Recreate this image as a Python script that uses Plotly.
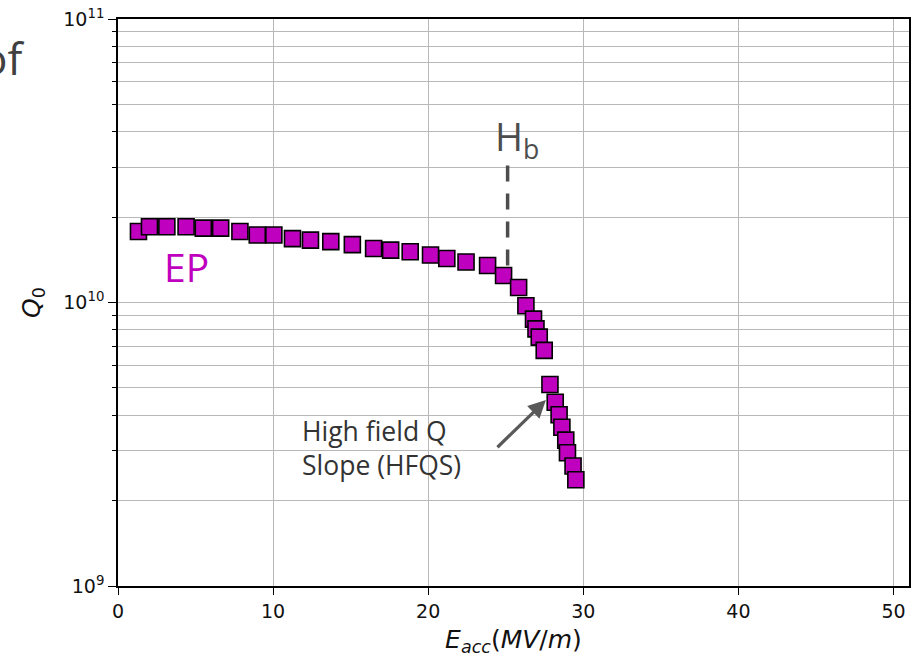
import plotly.graph_objects as go

# Q0 vs accelerating gradient for an EP-treated cavity
eacc = [1.32, 2.03, 3.15, 4.39, 5.50, 6.62, 7.86, 8.98, 10.05, 11.25, 12.41,
        13.72, 15.11, 16.48, 17.58, 18.84, 20.15, 21.20, 22.44, 23.83, 24.86,
        25.83, 26.30, 26.79, 26.95, 27.16, 27.48, 27.85, 28.19, 28.44, 28.62,
        28.87, 28.98, 29.34, 29.52]
q0 = [1.78e10, 1.85e10, 1.85e10, 1.85e10, 1.83e10, 1.83e10, 1.78e10, 1.73e10,
      1.73e10, 1.68e10, 1.66e10, 1.64e10, 1.60e10, 1.55e10, 1.53e10, 1.51e10,
      1.47e10, 1.43e10, 1.39e10, 1.35e10, 1.245e10, 1.13e10, 9.74e9, 8.74e9,
      8.07e9, 7.55e9, 6.78e9, 5.14e9, 4.45e9, 4.02e9, 3.63e9, 3.27e9, 2.95e9,
      2.65e9, 2.37e9]

# Hb marker: vertical dashed line
hb_x = [25.12, 25.12]
hb_y = [1.35e10, 3.04e10]

x_ticks = [0, 10, 20, 30, 40, 50]
y_major = [1e9, 1e10, 1e11]
y_major_text = ["10<sup>9</sup>", "10<sup>10</sup>", "10<sup>11</sup>"]
y_minor = [m * d for d in (1e9, 1e10) for m in range(2, 10)]

MAGENTA = "#BF00BF"
GRID = "#b8b8b8"
TICKFONT = dict(family="DejaVu Sans", size=19, color="#111")

fig = go.Figure()

fig.add_trace(go.Scatter(
    x=hb_x, y=hb_y, mode="lines",
    line=dict(color="#4d4d4d", width=3.5, dash="16px,12px"),
    hoverinfo="skip", showlegend=False,
))

fig.add_trace(go.Scatter(
    x=eacc, y=q0, mode="markers",
    marker=dict(symbol="square", size=16, color=MAGENTA,
                line=dict(color="black", width=1.6)),
    showlegend=False, cliponaxis=False,
))

annotations = [
    dict(x=2.85, y=10.127, xref="x", yref="y", text="EP", showarrow=False,
         xanchor="left", yanchor="middle",
         font=dict(family="Open Sans", size=39, color=MAGENTA)),
    dict(x=24.2, y=10.58, xref="x", yref="y",
         text="H<sub>b</sub>", showarrow=False,
         xanchor="left", yanchor="middle",
         font=dict(family="Open Sans", size=38, color="#4d4d4d")),
    dict(x=11.75, y=9.487, xref="x", yref="y",
         text="High field Q<br>Slope (HFQS)", showarrow=False,
         xanchor="left", yanchor="middle", align="left",
         font=dict(family="Open Sans", size=26.5, color="#333")),
    dict(x=27.59, y=9.6557, xref="x", yref="y", ax=24.37, ay=9.4843,
         axref="x", ayref="y", text="", showarrow=True,
         arrowhead=2, arrowsize=1.1, arrowwidth=3.2, arrowcolor="#595959"),
    dict(x=-0.116, y=0.932, xref="paper", yref="paper", text="of",
         showarrow=False, xanchor="right", yanchor="middle",
         font=dict(family="Open Sans", size=44, color="#404040")),
]

fig.update_layout(
    width=917, height=661,
    margin=dict(l=118, r=6, t=14, b=75),
    paper_bgcolor="white", plot_bgcolor="white",
    annotations=annotations,
    xaxis=dict(
        range=[0, 51], tickvals=x_ticks, ticks="outside", ticklen=7,
        tickwidth=1.3, tickcolor="black", tickfont=TICKFONT,
        showgrid=True, gridcolor=GRID, gridwidth=1,
        showline=True, linecolor="black", linewidth=1.6, mirror=True,
        zeroline=False,
        title=dict(text="<i>E</i><sub><i>acc</i></sub>(<i>MV</i>/<i>m</i>)",
                   font=dict(family="DejaVu Sans", size=25, color="#111"),
                   standoff=10),
    ),
    yaxis=dict(
        type="log", range=[9, 11], tickvals=y_major, ticktext=y_major_text,
        ticks="outside", ticklen=8, tickwidth=1.3, tickcolor="black",
        tickfont=TICKFONT,
        showgrid=True, gridcolor=GRID, gridwidth=1,
        showline=True, linecolor="black", linewidth=1.6, mirror=True,
        zeroline=False,
        minor=dict(tickvals=y_minor, ticks="outside", ticklen=4,
                   tickwidth=1.1, tickcolor="black",
                   showgrid=True, gridcolor=GRID, gridwidth=1),
        title=dict(text="<i>Q</i><sub>0</sub>",
                   font=dict(family="DejaVu Sans", size=25, color="#111"),
                   standoff=16),
    ),
)

fig.write_html("out.html")
